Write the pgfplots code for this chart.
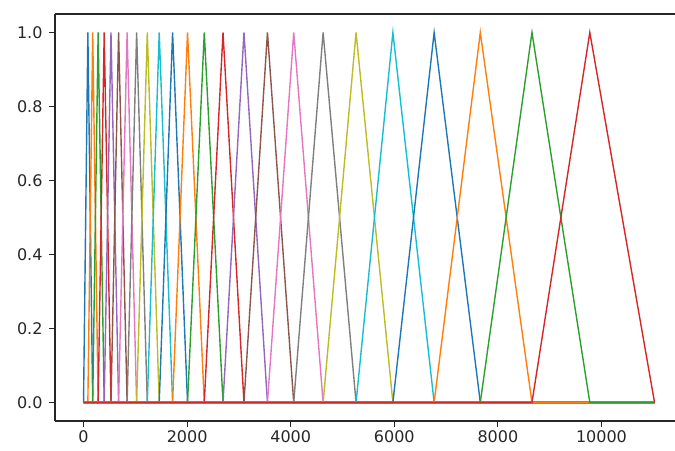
\documentclass[border=0pt]{standalone}
\usepackage{pgfplots}
\pgfplotsset{compat=1.18}
\usepackage{fontspec}
\setmainfont{DejaVu Sans}

\definecolor{c0}{HTML}{1F77B4}
\definecolor{c1}{HTML}{FF7F0E}
\definecolor{c2}{HTML}{2CA02C}
\definecolor{c3}{HTML}{D62728}
\definecolor{c4}{HTML}{9467BD}
\definecolor{c5}{HTML}{8C564B}
\definecolor{c6}{HTML}{E377C2}
\definecolor{c7}{HTML}{7F7F7F}
\definecolor{c8}{HTML}{BCBD22}
\definecolor{c9}{HTML}{17BECF}

\pgfplotscreateplotcyclelist{tab10}{
  {c0},{c1},{c2},{c3},{c4},{c5},{c6},{c7},{c8},{c9}}

\begin{document}
\begin{tikzpicture}
\begin{axis}[
    scale only axis,
    width=620pt, height=407pt,
    xmin=-551, xmax=11420,
    ymin=-0.05, ymax=1.05,
    axis x line*=bottom,
    axis y line*=left,
    axis line style={-, line width=1.1pt, black!85},
    tick align=outside,
    major tick length=6pt,
    tick style={line width=1pt, black!85},
    xtick={0,2000,4000,6000,8000,10000},
    ytick={0,0.2,0.4,0.6,0.8,1.0},
    scaled x ticks=false,
    xticklabel style={/pgf/number format/1000 sep={}},
    yticklabel style={xshift=-3pt, /pgf/number format/.cd, fixed, fixed zerofill, precision=1},
    /pgf/number format/assume math mode=true,
    ticklabel style={font=\fontsize{16}{19}\selectfont, text=black!85},
    cycle list name=tab10,
    every axis plot/.append style={line width=1.4pt, mark=none},
]
\addplot coordinates {(0,0) (0,0) (83.5,1) (177.0,0) (11025,0)};
\addplot coordinates {(0,0) (83.5,0) (177.0,1) (281.7,0) (11025,0)};
\addplot coordinates {(0,0) (177.0,0) (281.7,1) (398.9,0) (11025,0)};
\addplot coordinates {(0,0) (281.7,0) (398.9,1) (530.0,0) (11025,0)};
\addplot coordinates {(0,0) (398.9,0) (530.0,1) (676.9,0) (11025,0)};
\addplot coordinates {(0,0) (530.0,0) (676.9,1) (841.2,0) (11025,0)};
\addplot coordinates {(0,0) (676.9,0) (841.2,1) (1025.1,0) (11025,0)};
\addplot coordinates {(0,0) (841.2,0) (1025.1,1) (1230.9,0) (11025,0)};
\addplot coordinates {(0,0) (1025.1,0) (1230.9,1) (1461.3,0) (11025,0)};
\addplot coordinates {(0,0) (1230.9,0) (1461.3,1) (1719.3,0) (11025,0)};
\addplot coordinates {(0,0) (1461.3,0) (1719.3,1) (2008.0,0) (11025,0)};
\addplot coordinates {(0,0) (1719.3,0) (2008.0,1) (2331.1,0) (11025,0)};
\addplot coordinates {(0,0) (2008.0,0) (2331.1,1) (2692.9,0) (11025,0)};
\addplot coordinates {(0,0) (2331.1,0) (2692.9,1) (3097.7,0) (11025,0)};
\addplot coordinates {(0,0) (2692.9,0) (3097.7,1) (3550.9,0) (11025,0)};
\addplot coordinates {(0,0) (3097.7,0) (3550.9,1) (4058.2,0) (11025,0)};
\addplot coordinates {(0,0) (3550.9,0) (4058.2,1) (4626.0,0) (11025,0)};
\addplot coordinates {(0,0) (4058.2,0) (4626.0,1) (5261.6,0) (11025,0)};
\addplot coordinates {(0,0) (4626.0,0) (5261.6,1) (5973.0,0) (11025,0)};
\addplot coordinates {(0,0) (5261.6,0) (5973.0,1) (6769.3,0) (11025,0)};
\addplot coordinates {(0,0) (5973.0,0) (6769.3,1) (7660.6,0) (11025,0)};
\addplot coordinates {(0,0) (6769.3,0) (7660.6,1) (8658.3,0) (11025,0)};
\addplot coordinates {(0,0) (7660.6,0) (8658.3,1) (9775.1,0) (11025,0)};
\addplot coordinates {(0,0) (8658.3,0) (9775.1,1) (11025,0) (11025,0)};
\draw[line width=1.1pt, black!85] (rel axis cs:0,1) -- (rel axis cs:1,1);
\end{axis}
\pgfresetboundingbox
\path ([shift={(-55pt,-30pt)}]current axis.south west) rectangle ([shift={(0pt,14pt)}]current axis.north east);
\end{tikzpicture}
\end{document}
